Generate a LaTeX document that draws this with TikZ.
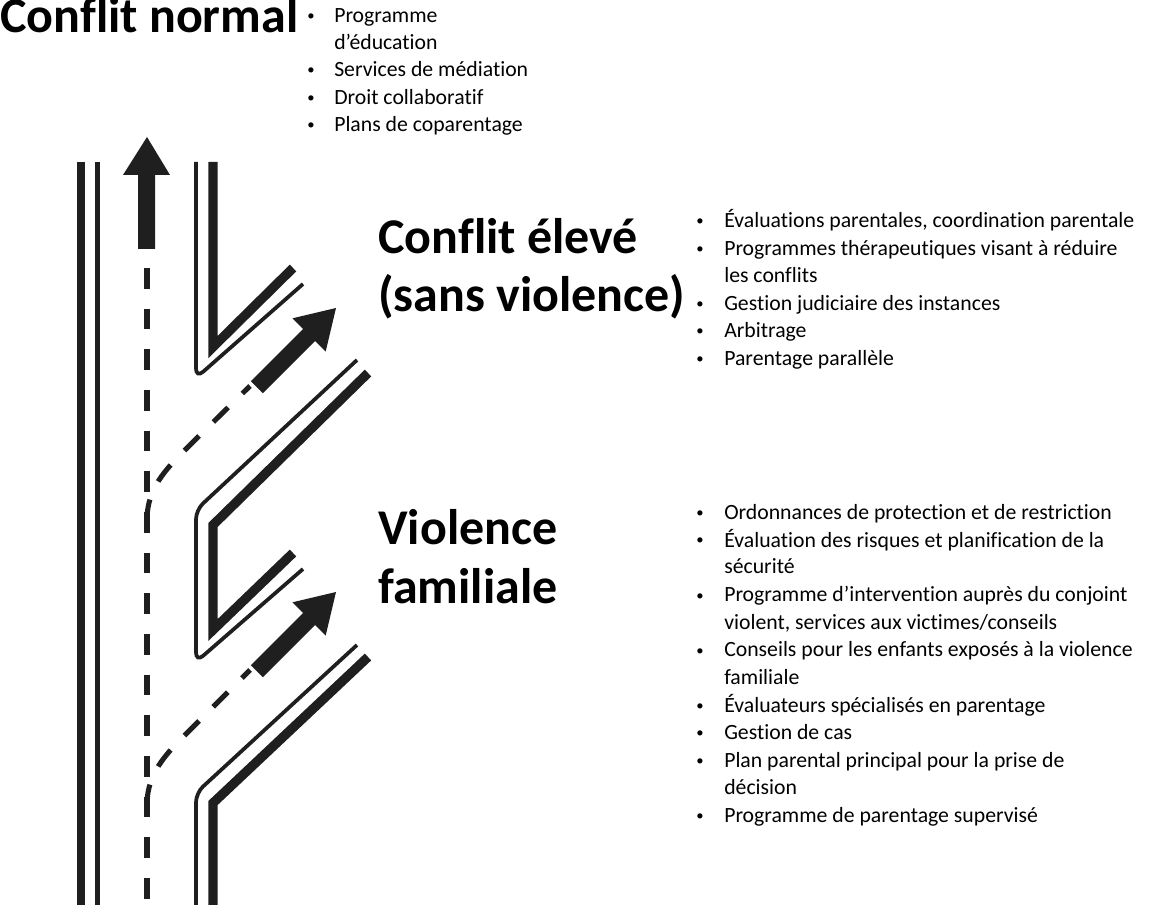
\documentclass[tikz,border=0pt]{standalone}
\usepackage{fontspec}
\setmainfont[Ligatures=NoCommon]{Carlito}
\begin{document}
\begin{tikzpicture}[x=0.75pt,y=-0.75pt,
  thick line/.style={line width=7pt,black!88},
  thin line/.style={line width=2.8pt,black!88,rounded corners=7pt},
  dash line/.style={line width=3.8pt,black!88,dash pattern=on 15.5pt off 15pt},
  arrowfill/.style={fill=black!88},
  head/.style={font=\bfseries\fontsize{37.5}{42}\selectfont,anchor=base west,inner sep=0pt},
  item/.style={font=\fontsize{16.3}{19}\selectfont,anchor=base west,inner sep=0pt},
  bul/.style={font=\fontsize{11}{13}\selectfont,anchor=base west,inner sep=0pt}]
\useasboundingbox (0,0) rectangle (1154,905);
% roads
\draw[line width=6pt,black!88] (81,162) -- (81,905);
\draw[line width=3.6pt,black!88] (97.5,162) -- (97.5,905);
\draw[thick line] (213,162)--(213,347)--(293,268);
\draw[thin line] (196,162)--(196,378)--(303,284);
\draw[thick line] (368,373)--(213,525)--(213,630)--(293,553);
\draw[thin line] (357,360)--(196,510)--(196,662)--(303,569);
\draw[thick line] (368,657)--(213,803)--(213,905);
\draw[thin line] (357,645)--(196,793)--(196,905);
% dashed
\draw[dash line] (147,268) -- (147,905);
\draw[dash line] (147,520) .. controls (147,485) and (170,465) .. (195,440) -- (250,386);
\draw[dash line] (147,805) .. controls (147,770) and (170,750) .. (195,725) -- (250,670);
% arrows
\fill[arrowfill] (138,249)--(138,175)--(123,175)--(147,137)--(170,175)--(155,175)--(155,249)--cycle;
\fill[arrowfill] (262.8,393.2)--(250.8,381.2)--(303.1,328.9)--(292.5,318.3)--(336,308)--(325.7,351.5)--(315.1,340.9)--cycle;
\begin{scope}[yshift=-213pt]
\fill[arrowfill] (262.8,393.2)--(250.8,381.2)--(303.1,328.9)--(292.5,318.3)--(336,308)--(325.7,351.5)--(315.1,340.9)--cycle;
\end{scope}
% headings
\node[head] (h1) at (0,33) {Conflit normal};
\node[head] (h2) at (378,254) {Conflit élevé};
\node[head] (h2b) at (378,312) {(sans violence)};
\node[head] (h3) at (378,545) {Violence};
\node[head] (h3b) at (378,604) {familiale};
% list 1
\foreach \y/\t/\b in {17/Programme/1, 44/d’éducation/0, 71/Services de médiation/1, 99/Droit collaboratif/1, 126/Plans de coparentage/1}{
  \node[item] at (334,\y+6) {\t};
  \ifnum\b=1 \node[bul] at (307,\y+4) {•};\fi
}
% list 2
\foreach \y/\t/\b in {222/{Évaluations parentales, coordination parentale}/1, 250/Programmes thérapeutiques visant à réduire/1, 277/les conflits/0, 305/Gestion judiciaire des instances/1, 332/Arbitrage/1, 360/Parentage parallèle/1}{
  \node[item] at (724,\y+6) {\t};
  \ifnum\b=1 \node[bul] at (696,\y+4) {•};\fi
}
% list 3
\foreach \y/\t/\b in {514/Ordonnances de protection et de restriction/1, 541/Évaluation des risques et planification de la/1, 568/sécurité/0, 596/Programme d’intervention auprès du conjoint/1, 623/{violent, services aux victimes/conseils}/0, 651/Conseils pour les enfants exposés à la violence/1, 678/familiale/0, 706/Évaluateurs spécialisés en parentage/1, 733/Gestion de cas/1, 761/Plan parental principal pour la prise de/1, 788/décision/0, 816/Programme de parentage supervisé/1}{
  \node[item] at (724,\y+6) {\t};
  \ifnum\b=1 \node[bul] at (696,\y+4) {•};\fi
}
\end{tikzpicture}
\end{document}
